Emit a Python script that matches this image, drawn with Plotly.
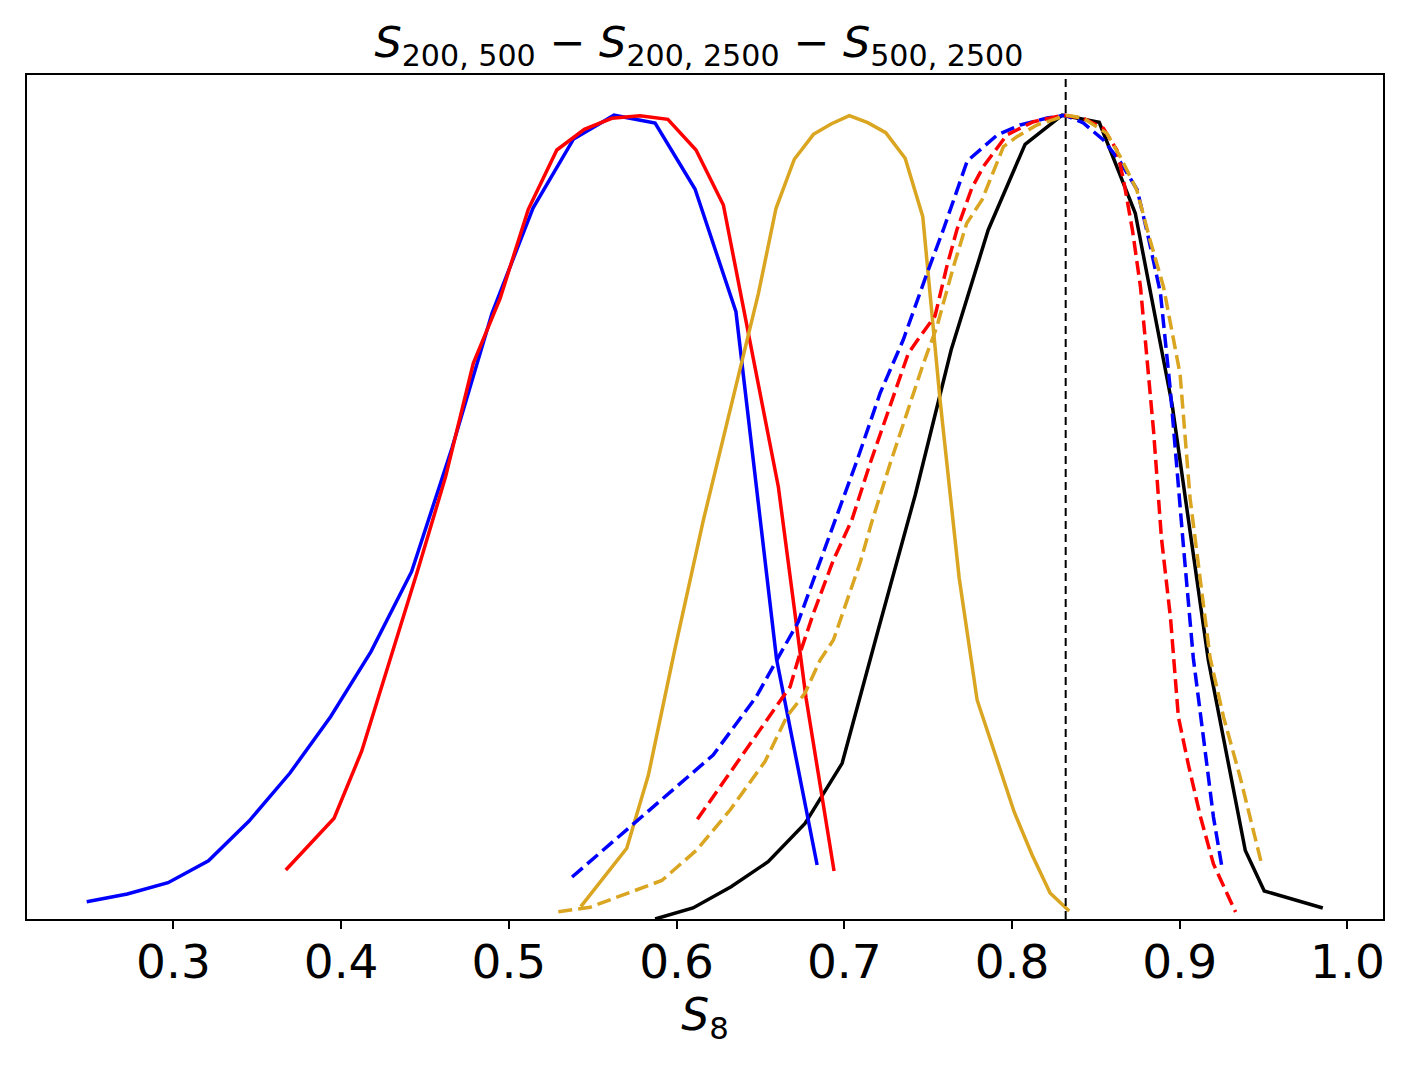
import plotly.graph_objects as go

# ---- data (S8 vs normalised posterior) ----
blue_solid_x = [0.2483, 0.2725, 0.2968, 0.3209, 0.3451, 0.3695, 0.3937, 0.4178, 0.4420, 0.4661,
                0.4900, 0.5144, 0.5386, 0.5627, 0.5872, 0.6110, 0.6354, 0.6596, 0.6838]
blue_solid_y = [0.0215, 0.0311, 0.0452, 0.0725, 0.1219, 0.1816, 0.2517, 0.3326, 0.4321, 0.5860,
                0.7539, 0.8845, 0.9704, 1.0000, 0.9903, 0.9082, 0.7555, 0.3235, 0.0672]

red_solid_x = [0.3670, 0.3958, 0.4123, 0.4292, 0.4459, 0.4623, 0.4788, 0.4948, 0.5116, 0.5286,
               0.5450, 0.5614, 0.5782, 0.5948, 0.6116, 0.6279, 0.6442, 0.6607, 0.6772, 0.6939]
red_solid_y = [0.0610, 0.1253, 0.2090, 0.3222, 0.4354, 0.5503, 0.6913, 0.7722, 0.8829, 0.9567,
               0.9825, 0.9961, 0.9994, 0.9949, 0.9567, 0.8883, 0.7141, 0.5374, 0.2749, 0.0597]

gold_solid_x = [0.5429, 0.5703, 0.5832, 0.5991, 0.6160, 0.6368, 0.6488, 0.6593, 0.6702, 0.6816,
                0.6921, 0.7030, 0.7140, 0.7247, 0.7363, 0.7468, 0.7571, 0.7685, 0.7792, 0.7905,
                0.8013, 0.8120, 0.8227, 0.8341]
gold_solid_y = [0.0153, 0.0880, 0.1791, 0.3368, 0.4964, 0.6747, 0.7784, 0.8842, 0.9452, 0.9762,
                0.9890, 0.9994, 0.9907, 0.9782, 0.9464, 0.8737, 0.6457, 0.4242, 0.2725, 0.2015,
                0.1331, 0.0796, 0.0323, 0.0100]

black_solid_x = [0.5872, 0.6098, 0.6325, 0.6546, 0.6766, 0.6987, 0.7202, 0.7423, 0.7637, 0.7858,
                 0.8078, 0.8299, 0.8520, 0.8735, 0.8955, 0.9170, 0.9391, 0.9504, 0.9853]
black_solid_y = [0.0000, 0.0137, 0.0402, 0.0713, 0.1190, 0.1937, 0.3595, 0.5275, 0.7079, 0.8572,
                 0.9638, 1.0000, 0.9912, 0.8780, 0.6395, 0.3226, 0.0852, 0.0348, 0.0137]

blue_dash_x = [0.5377, 0.6218, 0.6474, 0.6725, 0.6874, 0.6987, 0.7077, 0.7214, 0.7351, 0.7494,
               0.7590, 0.7733, 0.7912, 0.8049, 0.8210, 0.8318, 0.8425, 0.8545, 0.8646, 0.8747,
               0.8807, 0.8885, 0.8944, 0.9022, 0.9081, 0.9141, 0.9201, 0.9251]
blue_dash_y = [0.0523, 0.2040, 0.2762, 0.3695, 0.4553, 0.5213, 0.5710, 0.6544, 0.7203, 0.8037,
               0.8572, 0.9430, 0.9754, 0.9878, 0.9965, 1.0000, 0.9903, 0.9692, 0.9418, 0.9069,
               0.8534, 0.7788, 0.6581, 0.4640, 0.3247, 0.2264, 0.1269, 0.0654]

red_dash_x = [0.6124, 0.6677, 0.6736, 0.6816, 0.6935, 0.7045, 0.7154, 0.7273, 0.7382, 0.7433,
              0.7541, 0.7611, 0.7671, 0.7760, 0.7829, 0.7969, 0.8128, 0.8306, 0.8426, 0.8545,
              0.8625, 0.8665, 0.8718, 0.8766, 0.8808, 0.8844, 0.8891, 0.8945, 0.8992, 0.9052,
              0.9124, 0.9201, 0.9333]
red_dash_y = [0.1240, 0.2890, 0.3306, 0.3803, 0.4466, 0.4964, 0.5669, 0.6374, 0.7038, 0.7191,
              0.7502, 0.8115, 0.8572, 0.9091, 0.9360, 0.9754, 0.9919, 1.0000, 0.9961, 0.9837,
              0.9567, 0.9194, 0.8572, 0.7863, 0.6917, 0.6071, 0.4740, 0.3745, 0.2513, 0.1916,
              0.1269, 0.0684, 0.0087]

gold_dash_x = [0.5295, 0.5484, 0.5912, 0.6120, 0.6319, 0.6528, 0.6657, 0.6766, 0.6856, 0.6935,
               0.7094, 0.7164, 0.7274, 0.7373, 0.7472, 0.7552, 0.7651, 0.7730, 0.7822, 0.7869,
               0.7949, 0.8029, 0.8148, 0.8327, 0.8426, 0.8565, 0.8645, 0.8744, 0.8823, 0.8903,
               0.9002, 0.9062, 0.9121, 0.9181, 0.9261, 0.9360, 0.9489]
gold_dash_y = [0.0091, 0.0146, 0.0479, 0.0858, 0.1356, 0.1962, 0.2517, 0.2810, 0.3222, 0.3471,
               0.4430, 0.4940, 0.5669, 0.6292, 0.6913, 0.7369, 0.8115, 0.8655, 0.8950, 0.9194,
               0.9608, 0.9733, 0.9878, 1.0000, 0.9961, 0.9775, 0.9484, 0.9070, 0.8447, 0.7867,
               0.6780, 0.5229, 0.4242, 0.3251, 0.2513, 0.1767, 0.0679]

fiducial_s8 = 0.832
tick_vals = [0.3, 0.4, 0.5, 0.6, 0.7, 0.8, 0.9, 1.0]
tick_text = ["0.3", "0.4", "0.5", "0.6", "0.7", "0.8", "0.9", "1.0"]

BLUE, RED, GOLD, BLACK = "#0000ff", "#ff0000", "#daa520", "#000000"
DASH = "14px,6px"

fig = go.Figure()
series = [
    (black_solid_x, black_solid_y, BLACK, "solid"),
    (blue_solid_x, blue_solid_y, BLUE, "solid"),
    (red_solid_x, red_solid_y, RED, "solid"),
    (gold_solid_x, gold_solid_y, GOLD, "solid"),
    (blue_dash_x, blue_dash_y, BLUE, DASH),
    (red_dash_x, red_dash_y, RED, DASH),
    (gold_dash_x, gold_dash_y, GOLD, DASH),
]
for xs, ys, col, dash in series:
    fig.add_trace(go.Scatter(x=xs, y=ys, mode="lines",
                             line=dict(color=col, width=3.5, dash=dash),
                             showlegend=False, hoverinfo="skip"))

fig.add_shape(type="line", xref="x", yref="paper", x0=fiducial_s8, x1=fiducial_s8, y0=0, y1=1,
              line=dict(color="black", width=2, dash="8px,5px"))

fig.update_layout(
    width=1420, height=1065,
    margin=dict(l=19, r=45, t=67, b=154),
    paper_bgcolor="white", plot_bgcolor="white",
    font=dict(family="DejaVu Sans", color="black"),
    title=dict(
        text="<i>S</i><sub>200, 500</sub> − <i>S</i><sub>200, 2500</sub> − <i>S</i><sub>500, 2500</sub>",
        x=0.4955, xanchor="center", xref="paper", y=0.968, yanchor="middle", yref="container",
        font=dict(size=43, family="DejaVu Sans", color="black")),
)
fig.update_xaxes(range=[0.2127, 1.0212], tickvals=tick_vals, ticktext=tick_text,
                 ticks="outside", ticklen=8, tickwidth=1.5, tickcolor="black",
                 ticklabelstandoff=-7,
                 tickfont=dict(size=47, family="DejaVu Sans", color="black"),
                 showline=True, linecolor="black", linewidth=1.5, mirror=True,
                 showgrid=False, zeroline=False,
                 title=dict(text="<i>S</i><sub>8</sub>", font=dict(size=44, family="DejaVu Sans"),
                            standoff=4))
fig.update_yaxes(range=[0, 1.05], showticklabels=False, ticks="",
                 showline=True, linecolor="black", linewidth=1.5, mirror=True,
                 showgrid=False, zeroline=False)

fig.write_html("out.html")
